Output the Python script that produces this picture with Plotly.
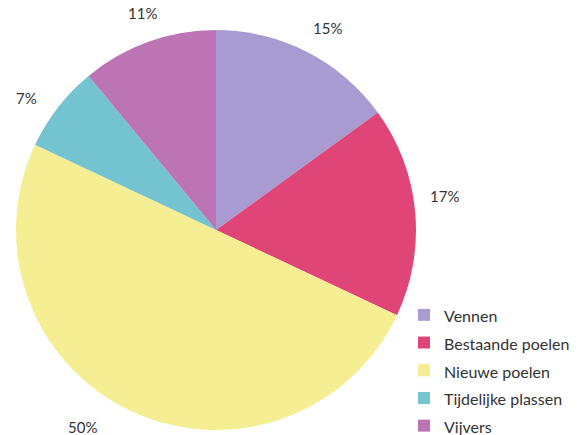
import math
import plotly.graph_objects as go

labels = ["Vennen", "Bestaande poelen", "Nieuwe poelen", "Tijdelijke plassen", "Vijvers"]
values = [15, 17, 50, 7, 11]
colors = ["#A89BD2", "#DF4677", "#F6EE92", "#74C3D1", "#BC74B5"]

# page body has an 8px margin, so the figure is drawn 8px smaller
W, H = 572, 427
cx, cy, r = 208, 222, 200  # pixel geometry of pie (from figure top-left)
label_gap = 31
angle_nudge = {"Nieuwe poelen": 9, "Vennen": 2, "Bestaande poelen": -3,
               "Tijdelijke plassen": -3, "Vijvers": 1}
gap_nudge = {"Nieuwe poelen": 7, "Vijvers": -2}

legend_names = [f"<span style='font-size:16px'>{l}</span>" for l in labels]

fig = go.Figure(go.Pie(
    labels=legend_names, values=values, sort=False, direction="clockwise", rotation=0,
    marker=dict(colors=colors, line=dict(width=0)),
    textinfo="none", hoverinfo="label+percent",
    domain=dict(x=[(cx - r) / W, (cx + r) / W], y=[(H - cy - r) / H, (H - cy + r) / H]),
))

total = sum(values)
cum = 0
ann = []
for lab, v in zip(labels, values):
    mid_deg = (cum + v / 2) / total * 360 + angle_nudge.get(lab, 0)
    cum += v
    mid = math.radians(mid_deg)
    d = r + label_gap + gap_nudge.get(lab, 0)
    px = cx + d * math.sin(mid)
    py = cy - d * math.cos(mid)
    ann.append(dict(x=px / W, y=1 - py / H, xref="paper", yref="paper",
                    xanchor="center", yanchor="middle",
                    text=f"{round(v / total * 100)}%", showarrow=False,
                    font=dict(family="Lato, sans-serif", size=15, color="#333333")))

fig.update_layout(
    width=W, height=H, margin=dict(l=0, r=0, t=0, b=0, autoexpand=False),
    paper_bgcolor="white", plot_bgcolor="white",
    annotations=ann,
    legend=dict(x=396 / W, y=1 - 288 / H, xanchor="left", yanchor="top",
                font=dict(family="Lato, sans-serif", size=19, color="#333333"),
                bgcolor="rgba(0,0,0,0)", itemclick=False),
)
fig.write_html("out.html")
